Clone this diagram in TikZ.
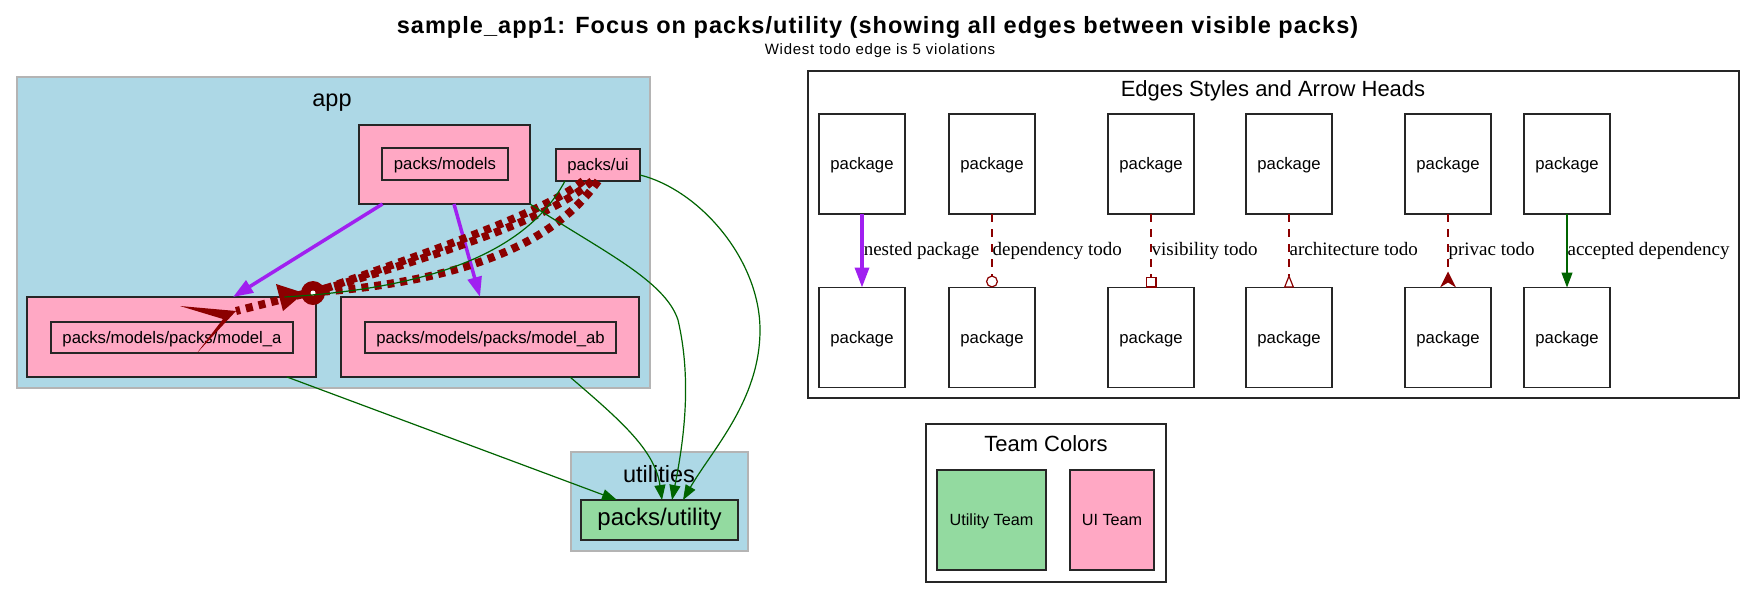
\documentclass[tikz,border=0pt]{standalone}
\usepackage{fontspec}
\setmainfont{Liberation Sans}
\newfontfamily\serifL{Liberation Serif}
\newfontfamily\titlefont{Liberation Sans}[LetterSpace=4.5]
\newfontfamily\subfont{Liberation Sans}[LetterSpace=5]
\usetikzlibrary{arrows.meta}
\definecolor{clusterblue}{HTML}{ADD8E6}
\definecolor{pinkfill}{RGB}{255,168,196}
\definecolor{greenfill}{RGB}{147,218,160}
\definecolor{dred}{HTML}{8B0000}
\definecolor{dgreen}{HTML}{006400}
\definecolor{purp}{HTML}{A020F0}
\definecolor{cgray}{RGB}{180,180,180}
\begin{document}
\begin{tikzpicture}[x=1pt,y=-1pt,
  cluster/.style={draw=cgray, line width=1.5pt, fill=clusterblue, rectangle, inner sep=0pt, outer sep=0pt},
  pbox/.style={draw=black!85, line width=1.2pt, rectangle, inner sep=0pt, outer sep=0pt, text height=1.15em, text depth=0pt},
  pinkbox/.style={pbox, fill=pinkfill},
  lbl/.style={font=\fontsize{16.7}{19}\selectfont},
  tlbl/.style={font=\fontsize{16.2}{18}\selectfont},
  cltitle/.style={font=\fontsize{23.5}{26}\selectfont, inner sep=0pt},
  legtitle/.style={font=\fontsize{22}{25}\selectfont, inner sep=0pt},
  green edge/.style={draw=dgreen, line width=1.2pt, -{Triangle[length=15pt,width=11pt]}},
  nest edge/.style={draw=purp, line width=3.5pt, -{Triangle[length=20pt,width=14pt]}},
  todo edge/.style={draw=dred, line width=8pt, dash pattern=on 7pt off 6pt},
  leg todo/.style={draw=dred, line width=1.2pt, dash pattern=on 8pt off 7pt},
  elabel/.style={font=\serifL\fontsize{19}{21}\selectfont, inner sep=0pt, anchor=mid west, pos=0.5, yshift=-2.5pt}
]
\useasboundingbox[fill=white] (0,0) rectangle (1756,598);

% title
\node[anchor=base, inner sep=0pt, font=\titlefont\bfseries\fontsize{23.5}{26}\selectfont] (title) at (877.5,33) {sample\_app1: Focus on packs/utility (showing all edges between visible packs)};
\node[anchor=base, inner sep=0pt, font=\subfont\fontsize{15}{17}\selectfont] (subtitle) at (880,54) {Widest todo edge is 5 violations};

% app cluster
\node[cluster, minimum width=633pt, minimum height=311pt] (app) at (333.5,232.5) {};
\node[cltitle] (appt) at (332,103) {app};
\node[pinkbox, minimum width=171pt, minimum height=79pt] (mo) at (444.5,164.5) {};
\node[pinkbox, minimum width=126pt, minimum height=32pt, lbl] (moi) at (445,164) {packs/models};
\node[pinkbox, minimum width=84pt, minimum height=32pt, lbl] (ui) at (598,165) {packs/ui};
\node[pinkbox, minimum width=289pt, minimum height=80pt] (ma) at (171.5,337) {};
\node[pinkbox, minimum width=242pt, minimum height=31pt, lbl] (mai) at (172,337.5) {packs/models/packs/model\_a};
\node[pinkbox, minimum width=298pt, minimum height=80pt] (mab) at (490,337) {};
\node[pinkbox, minimum width=251pt, minimum height=31pt, lbl] (mabi) at (490.5,337.5) {packs/models/packs/model\_ab};

% utilities cluster
\node[cluster, minimum width=177pt, minimum height=99pt] (utc) at (659.5,501.5) {};
\node[cltitle] (utt) at (659,474) {utilities};
\node[pbox, fill=greenfill, minimum width=157pt, minimum height=40pt, font=\fontsize{24}{27}\selectfont] (ut) at (659.5,520) {packs/utility};

% nested edges
\draw[nest edge] ([xshift=-62pt]mo.south) -- ([xshift=61.5pt]ma.north);
\draw[nest edge] ([xshift=9.5pt]mo.south) -- ([xshift=-10pt]mab.north);

% todo edges ui -> model_a
\coordinate (odotc) at (313,293);
\coordinate (invtip) at (304,293);
\coordinate (crowtip) at (236,311);
\draw[todo edge] ([xshift=-15pt]ui.south) .. controls (545,212) and (440,248) .. (odotc);
\draw[todo edge] ([xshift=-6pt]ui.south) .. controls (552,218) and (445,252) .. (335,286) -- (crowtip);
\draw[todo edge] (ui.south) .. controls (560,235) and (480,282) .. (invtip);
\fill[dred] (odotc) circle[radius=12pt];
\fill[white] (odotc) circle[radius=2.5pt];
\fill[dred] (276,284) -- (283,311) -- (invtip) -- cycle;
\fill[dred] (crowtip) -- (180,306) -- (223,319) -- (197,353) -- cycle;

% accepted dependencies
\draw[draw=dgreen, line width=1.2pt] ([xshift=-33pt]ui.south) .. controls (520,265) and (400,290) .. ([xshift=113pt]ma.north);
\draw[green edge] ([xshift=115.5pt]ma.south) -- ([xshift=-42.5pt]ut.north);
\draw[green edge] ([xshift=80pt]mab.south) .. controls (620,420) and (655,450) .. ([xshift=2.5pt]ut.north);
\draw[green edge] (mo.south east) .. controls (600,250) and (665,280) .. (678,320) .. controls (692,380) and (684,440) .. ([xshift=12.5pt]ut.north);
\draw[green edge] ([yshift=-10pt]ui.east) .. controls (700,190) and (760,260) .. (760,330) .. controls (760,400) and (712,450) .. ([xshift=23.5pt]ut.north);

% legend
\node[pbox, fill=white, minimum width=931pt, minimum height=327pt] (leg) at (1273.5,234.5) {};
\node[legtitle] (legt) at (1273,91) {Edges Styles and Arrow Heads};
\foreach \i/\x in {1/862,2/992,3/1151,4/1289,5/1448,6/1567} {
  \node[pbox, fill=white, minimum width=86pt, minimum height=100pt, lbl] (lt\i) at (\x,164) {package};
  \node[pbox, fill=white, minimum width=86pt, minimum height=100pt, lbl] (lb\i) at (\x,337.5) {package};
}
\draw[nest edge] (lt1) -- node[elabel]{nested package} (lb1);
\draw[leg todo, -{Circle[open, length=12pt]}] (lt2) -- node[elabel]{dependency todo} (lb2);
\draw[leg todo, -{Square[open, length=11pt]}] (lt3) -- node[elabel]{visibility todo} (lb3);
\draw[leg todo, -{Triangle[open, reversed, length=13pt, width=10pt]}] (lt4) -- node[elabel]{architecture todo} (lb4);
\draw[leg todo] (lt5) -- node[elabel]{privac todo} (lb5);
\coordinate (crow5) at ([yshift=16pt]lb5.north);
\fill[dred] (crow5) -- ([xshift=8pt]lb5.north) -- ([yshift=5pt]lb5.north) -- ([xshift=-8pt]lb5.north) -- cycle;
\draw[green edge] (lt6) -- node[elabel]{accepted dependency} (lb6);

% team colors
\node[draw=black!85, line width=1.2pt, rectangle, inner sep=0pt, outer sep=0pt, fill=white, minimum width=240pt, minimum height=158pt] (team) at (1046,503) {};
\node[legtitle] (teamt) at (1046,444) {Team Colors};
\node[pbox, fill=greenfill, minimum width=109pt, minimum height=100pt, tlbl] (utteam) at (991.5,520) {Utility Team};
\node[pinkbox, minimum width=84pt, minimum height=100pt, tlbl] (uiteam) at (1112,520) {UI Team};
\end{tikzpicture}
\end{document}
